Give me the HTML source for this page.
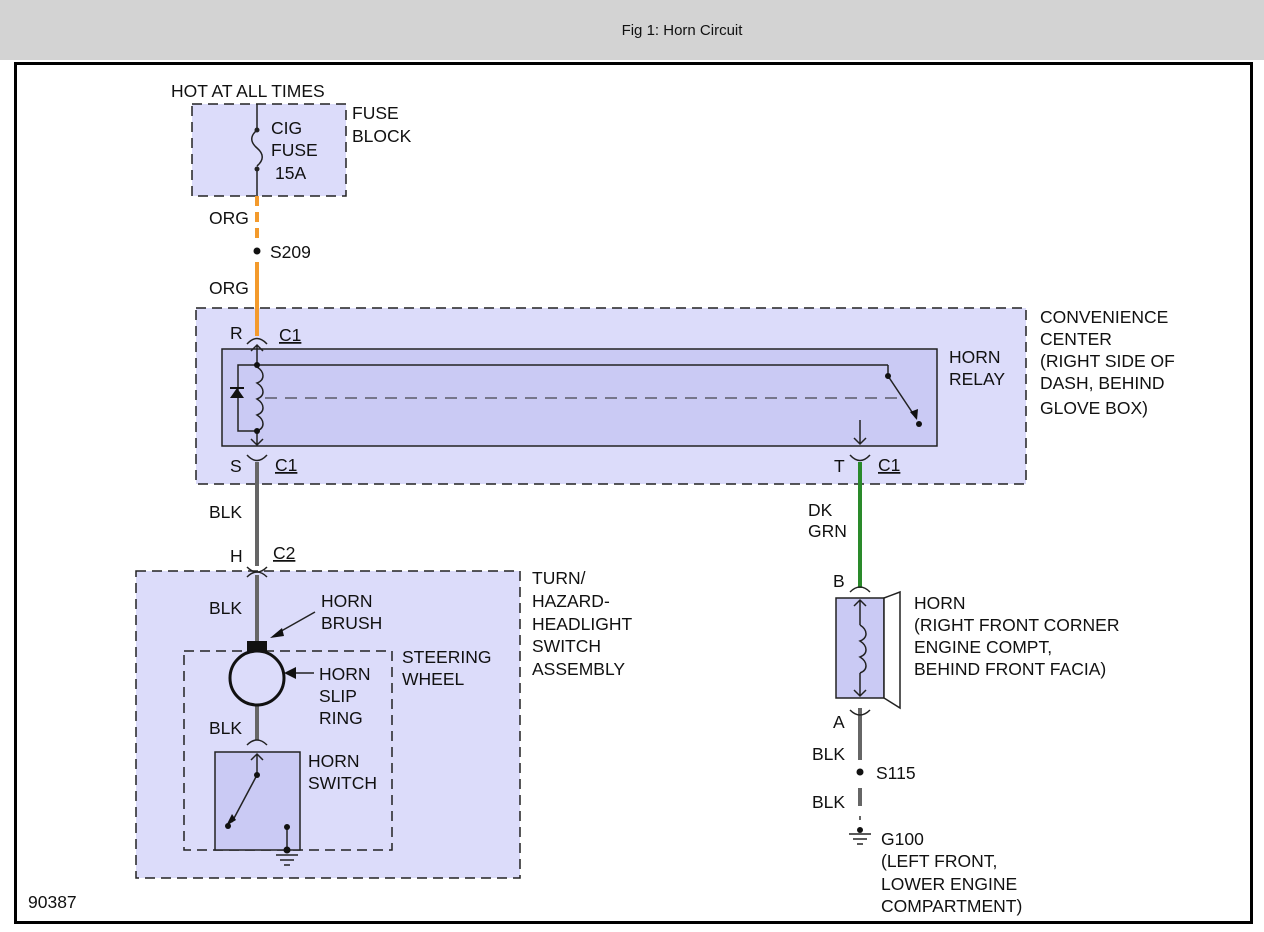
<!DOCTYPE html>
<html><head><style>
body{margin:0;background:#fff;}
svg{display:block;font-family:"Liberation Sans",Arial,sans-serif;}
text{font-size:17.5px;fill:#111;}
</style></head><body>
<svg width="1264" height="932" viewBox="0 0 1264 932" xmlns="http://www.w3.org/2000/svg">
<rect x="0" y="0" width="1264" height="60" fill="#d3d3d3"/>
<text x="682" y="35" text-anchor="middle" style="font-size:15px" fill="#333">Fig 1: Horn Circuit</text>
<rect x="15.5" y="63.5" width="1236" height="859" fill="#fff" stroke="#000" stroke-width="3"/>

<rect x="192" y="104" width="154" height="92" fill="#dcdcfa" stroke="#222" stroke-width="1.5" stroke-dasharray="10,6"/>
<rect x="196" y="308" width="830" height="176" fill="#dcdcfa" stroke="#222" stroke-width="1.5" stroke-dasharray="10,6"/>
<rect x="222" y="349" width="715" height="97" fill="#cacaf4" stroke="#222" stroke-width="1.5"/>
<rect x="136" y="571" width="384" height="307" fill="#dcdcfa" stroke="#222" stroke-width="1.5" stroke-dasharray="10,6"/>
<rect x="184" y="651" width="208" height="199" fill="none" stroke="#222" stroke-width="1.5" stroke-dasharray="10,6"/>
<rect x="215" y="752" width="85" height="98" fill="#cacaf4" stroke="#222" stroke-width="1.5"/>
<rect x="836" y="598" width="48" height="100" fill="#cacaf4" stroke="#222" stroke-width="1.5"/>
<polygon points="884,598 900,592 900,708 884,698" fill="#fff" stroke="#222" stroke-width="1.5"/>

<g stroke="#222" stroke-width="1.5" fill="none">
<line x1="257" y1="104" x2="257" y2="130"/>
<path d="M257,130 C250,136 250,142 257,148 C264,154 264,160 257,166"/>
<line x1="257" y1="170" x2="257" y2="196"/>
</g>
<circle cx="257" cy="130" r="2.5" fill="#222"/><circle cx="257" cy="169" r="2.5" fill="#222"/>

<line x1="257" y1="196" x2="257" y2="240" stroke="#f39a2c" stroke-width="4" stroke-dasharray="10,6"/>
<line x1="257" y1="262" x2="257" y2="336" stroke="#f39a2c" stroke-width="4"/>
<circle cx="257" cy="251" r="3.5" fill="#111"/>
<line x1="257" y1="462" x2="257" y2="566" stroke="#666" stroke-width="4"/>
<line x1="257" y1="575" x2="257" y2="642" stroke="#666" stroke-width="4"/>
<line x1="257" y1="705" x2="257" y2="740" stroke="#666" stroke-width="4"/>
<line x1="860" y1="462" x2="860" y2="588" stroke="#2a8a2a" stroke-width="4"/>
<line x1="860" y1="708" x2="860" y2="760" stroke="#666" stroke-width="4"/>
<circle cx="860" cy="772" r="3.5" fill="#111"/>
<line x1="860" y1="788" x2="860" y2="806" stroke="#666" stroke-width="4"/>
<line x1="860" y1="816" x2="860" y2="820" stroke="#666" stroke-width="2"/>

<g stroke="#222" stroke-width="1.5" fill="none">
<path d="M247,344 Q257,333 267,344"/>
<path d="M247,455 Q257,466 267,455"/>
<path d="M850,455 Q860,466 870,455"/>
<path d="M247,567 Q257,577 267,567"/>
<path d="M247,577 Q257,567 267,577"/>
<path d="M850,592 Q860,582 870,592"/>
<path d="M850,710 Q860,720 870,710"/>
<path d="M247,745 Q257,735 267,745"/>
<path d="M251,351 L257,345 L263,351 M257,345 L257,367"/>
<path d="M257,367 C265,372 265,380 257,383 C265,388 265,396 257,399 C265,404 265,412 257,415 C265,420 265,428 257,431"/>
<path d="M257,431 L257,445 M251,439 L257,445 L263,439"/>
<path d="M257,365 L238,365 L238,431 L257,431"/>
<line x1="257" y1="365" x2="888" y2="365"/>
<line x1="888" y1="365" x2="888" y2="376"/>
<line x1="888" y1="376" x2="916" y2="418"/>
<line x1="265" y1="398" x2="905" y2="398" stroke-dasharray="12,8" stroke-width="1"/>
<path d="M860,420 L860,444 M854,438 L860,444 L866,438"/>
<path d="M854,606 L860,600 L866,606 M860,600 L860,625"/>
<path d="M860,625 C868,630 868,638 860,641 C868,646 868,654 860,657 C868,662 868,670 860,673"/>
<path d="M860,673 L860,696 M854,690 L860,696 L866,690"/>
<path d="M251,760 L257,754 L263,760 M257,754 L257,775"/>
<line x1="257" y1="775" x2="232" y2="822"/>
<path d="M287,827 L287,849"/>
<line x1="276" y1="855" x2="298" y2="855"/><line x1="280" y1="860" x2="294" y2="860"/><line x1="284" y1="865" x2="290" y2="865"/>
<line x1="849" y1="834" x2="871" y2="834"/><line x1="853" y1="839" x2="867" y2="839"/><line x1="857" y1="844" x2="863" y2="844"/>
<line x1="315" y1="612" x2="276" y2="634"/>
<line x1="314" y1="673" x2="292" y2="673"/>
</g>
<polygon points="230,398 244,398 237,388" fill="#111"/>
<line x1="230" y1="388" x2="244" y2="388" stroke="#111" stroke-width="2"/>
<polygon points="910,412 917,420 918,409" fill="#111"/>
<polygon points="226,826 232,814 236,820" fill="#111"/>
<polygon points="270,638 282,628 284,636" fill="#111"/>
<polygon points="284,673 296,667 296,679" fill="#111"/>
<g fill="#111">
<circle cx="257" cy="365" r="3"/><circle cx="257" cy="431" r="3"/>
<circle cx="888" cy="376" r="3"/><circle cx="919" cy="424" r="3"/>
<circle cx="257" cy="775" r="3"/><circle cx="228" cy="826" r="3"/>
<circle cx="287" cy="827" r="3"/><circle cx="287" cy="850" r="3.5"/>
<circle cx="860" cy="830" r="3"/>
</g>
<rect x="247" y="641" width="20" height="11" fill="#111"/>
<circle cx="257" cy="678" r="27" fill="none" stroke="#111" stroke-width="3"/>

<text x="171" y="97">HOT AT ALL TIMES</text>
<text x="271" y="134">CIG</text><text x="271" y="156">FUSE</text><text x="275" y="179">15A</text>
<text x="352" y="119">FUSE</text><text x="352" y="142">BLOCK</text>
<text x="209" y="224">ORG</text><text x="270" y="258">S209</text><text x="209" y="294">ORG</text>
<text x="230" y="339">R</text><text x="279" y="341" text-decoration="underline">C1</text>
<text x="230" y="472">S</text><text x="275" y="471" text-decoration="underline">C1</text>
<text x="834" y="472">T</text><text x="878" y="471" text-decoration="underline">C1</text>
<text x="1040" y="323">CONVENIENCE</text><text x="1040" y="345">CENTER</text>
<text x="1040" y="367">(RIGHT SIDE OF</text><text x="1040" y="389">DASH, BEHIND</text><text x="1040" y="414">GLOVE BOX)</text>
<text x="949" y="363">HORN</text><text x="949" y="385">RELAY</text>
<text x="209" y="518">BLK</text>
<text x="808" y="516">DK</text><text x="808" y="537">GRN</text>
<text x="230" y="562">H</text><text x="273" y="559" text-decoration="underline">C2</text>
<text x="532" y="584">TURN/</text><text x="532" y="607">HAZARD-</text><text x="532" y="630">HEADLIGHT</text><text x="532" y="652">SWITCH</text><text x="532" y="675">ASSEMBLY</text>
<text x="209" y="614">BLK</text>
<text x="321" y="607">HORN</text><text x="321" y="629">BRUSH</text>
<text x="402" y="663">STEERING</text><text x="402" y="685">WHEEL</text>
<text x="319" y="680">HORN</text><text x="319" y="702">SLIP</text><text x="319" y="724">RING</text>
<text x="209" y="734">BLK</text>
<text x="308" y="767">HORN</text><text x="308" y="789">SWITCH</text>
<text x="833" y="587">B</text>
<text x="914" y="609">HORN</text><text x="914" y="631">(RIGHT FRONT CORNER</text><text x="914" y="653">ENGINE COMPT,</text><text x="914" y="675">BEHIND FRONT FACIA)</text>
<text x="833" y="728">A</text>
<text x="812" y="760">BLK</text><text x="876" y="779">S115</text><text x="812" y="808">BLK</text>
<text x="881" y="845">G100</text><text x="881" y="867">(LEFT FRONT,</text><text x="881" y="890">LOWER ENGINE</text><text x="881" y="912">COMPARTMENT)</text>
<text x="28" y="908">90387</text>
</svg>
</body></html>
